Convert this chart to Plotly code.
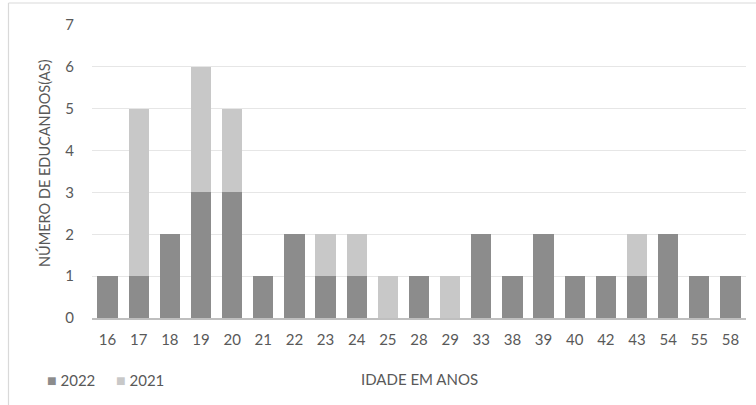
import plotly.graph_objects as go

# Ages (categories) and counts per year
idades = ["16", "17", "18", "19", "20", "21", "22", "23", "24", "25", "28",
          "29", "33", "38", "39", "40", "42", "43", "54", "55", "58"]
v2022 = [1, 1, 2, 3, 3, 1, 2, 1, 1, 0, 1, 0, 2, 1, 2, 1, 1, 1, 2, 1, 1]
v2021 = [0, 4, 0, 3, 2, 0, 0, 1, 1, 1, 0, 1, 0, 0, 0, 0, 0, 1, 0, 0, 0]
y_ticks = [0, 1, 2, 3, 4, 5, 6, 7]

series = [("2022", v2022, "#8c8c8c"), ("2021", v2021, "#c8c8c8")]

W, H = 756, 405
L, R, T, B = 92, 10, 25, 87
pw, ph = W - L - R, H - T - B

font_family = "Lato, Open Sans, sans-serif"
txt = "#595959"


def px_x(x):
    return (x - L) / pw


def px_y(y):
    return (H - B - y) / ph


fig = go.Figure()
for name, vals, color in series:
    fig.add_trace(go.Bar(x=idades, y=vals, name=name, marker_color=color,
                         marker_line_width=0, showlegend=False))

# Chart-area frame (left and top edges)
fig.add_shape(type="line", xref="paper", yref="paper", x0=px_x(8.5), x1=px_x(8.5),
              y0=px_y(H + 5), y1=px_y(3), line=dict(color="#d9d9d9", width=1.2))
fig.add_shape(type="line", xref="paper", yref="paper", x0=px_x(8.5), x1=px_x(W + 5),
              y0=px_y(3), y1=px_y(3), line=dict(color="#d9d9d9", width=1.2))

annotations = [
    dict(text="IDADE EM ANOS", xref="paper", yref="paper", x=px_x(419), y=px_y(379),
         showarrow=False, xanchor="center", yanchor="middle",
         font=dict(size=15, color=txt)),
    dict(text="NÚMERO DE EDUCANDOS(AS)", xref="paper", yref="paper",
         x=px_x(44), y=px_y(163), textangle=-90, showarrow=False,
         xanchor="center", yanchor="middle", font=dict(size=14.5, color=txt)),
]
# Legend entries: square swatch + year label
for (name, vals, color), xl in zip(series, [45, 114]):
    annotations.append(dict(
        text=f"<span style='color:{color};font-size:16px'>■</span> {name}",
        xref="paper", yref="paper", x=px_x(xl), y=px_y(379),
        showarrow=False, xanchor="left", yanchor="middle",
        font=dict(size=15, color=txt)))

fig.update_layout(
    width=W, height=H,
    margin=dict(l=L, r=R, t=T, b=B),
    barmode="stack", bargap=0.35,
    plot_bgcolor="white", paper_bgcolor="white",
    font=dict(family=font_family, color=txt, size=15),
    annotations=annotations,
    xaxis=dict(type="category", showgrid=False, showline=True, automargin=False,
               linecolor="#bfbfbf", linewidth=1.5, ticks="",
               ticklabelstandoff=7,
               tickfont=dict(size=15, color=txt)),
    yaxis=dict(range=[0, 7], tickvals=y_ticks, showgrid=True, automargin=False,
               gridcolor="#e6e6e6", gridwidth=1, zeroline=False,
               ticks="", ticklabelstandoff=17,
               tickfont=dict(size=15, color=txt)),
)

fig.write_html("out.html")
